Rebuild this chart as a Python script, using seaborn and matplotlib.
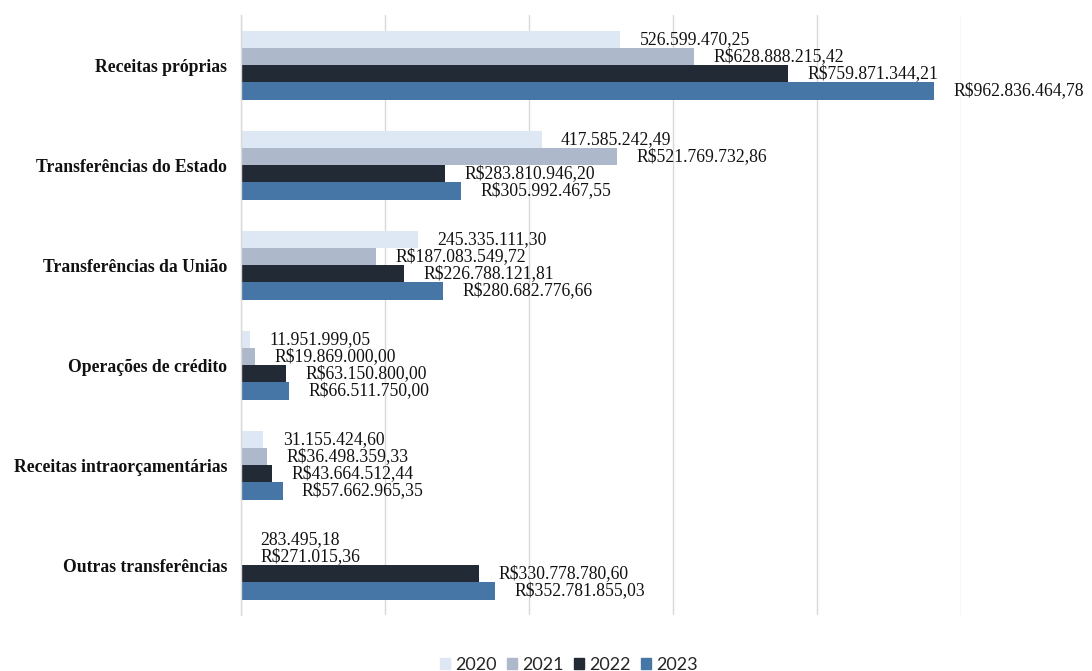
import matplotlib
matplotlib.use("Agg")
import matplotlib.pyplot as plt
import seaborn as sns
import pandas as pd

categories = [
    "Receitas próprias",
    "Transferências do Estado",
    "Transferências da União",
    "Operações de crédito",
    "Receitas intraorçamentárias",
    "Outras transferências",
]
years = ["2020", "2021", "2022", "2023"]
values_2020 = [526599470.25, 417585242.49, 245335111.30, 11951999.05, 31155424.60, 283495.18]
values_2021 = [628888215.42, 521769732.86, 187083549.72, 19869000.00, 36498359.33, 271015.36]
values_2022 = [759871344.21, 283810946.20, 226788121.81, 63150800.00, 43664512.44, 330778780.60]
values_2023 = [962836464.78, 305992467.55, 280682776.66, 66511750.00, 57662965.35, 352781855.03]
colors = ["#dde8f4", "#adb8ca", "#222a35", "#4676a5"]

series = [values_2020, values_2021, values_2022, values_2023]
rows = []
for year, vals in zip(years, series):
    for cat, v in zip(categories, vals):
        rows.append({"categoria": cat, "ano": year, "valor": v})
df = pd.DataFrame(rows)


def brl(v, prefix):
    s = f"{v:,.2f}".replace(",", "X").replace(".", ",").replace("X", ".")
    return prefix + s


sns.set_theme(style="white")
plt.rcParams["font.family"] = ["Liberation Serif", "DejaVu Serif"]

fig = plt.figure(figsize=(10.92, 6.71), dpi=100)
ax = fig.add_axes([241 / 1092, 1 - 615 / 671, 720 / 1092, 600 / 671])

sns.barplot(
    data=df, y="categoria", x="valor", hue="ano", order=categories,
    hue_order=years, palette=colors, orient="h", width=0.69,
    linewidth=0, saturation=1, ax=ax, legend=False,
)

ax.set_xlim(0, 1_000_000_000)
ax.set_xticks([i * 200_000_000 for i in range(6)])
ax.set_xticklabels([])
ax.tick_params(axis="x", length=0)
ax.tick_params(axis="y", length=0, pad=10)
ax.grid(axis="x", color="#d9d9d9", linewidth=1)
ax.set_axisbelow(True)
for side in ["top", "right", "bottom"]:
    ax.spines[side].set_visible(False)
ax.spines["left"].set_color("#d9d9d9")
ax.spines["left"].set_linewidth(1)
ax.set_xlabel("")
ax.set_ylabel("")
for lbl in ax.get_yticklabels():
    lbl.set_fontweight("bold")
    lbl.set_fontsize(12.7)
    lbl.set_color("#111111")

for container, year, vals in zip(ax.containers, years, series):
    prefix = "" if year == "2020" else "R$"
    labels = [brl(v, prefix) for v in vals]
    ax.bar_label(container, labels=labels, padding=14, fontsize=12.7,
                 color="#111111")

handles = [plt.Rectangle((0, 0), 1, 1, color=c) for c in colors]
fig.legend(
    handles, years, loc="center", bbox_to_anchor=(0.521, 0.009), ncol=4,
    frameon=False, prop={"family": ["Lato", "DejaVu Sans"], "size": 13},
    handlelength=0.55, handleheight=0.55, handletextpad=0.3, columnspacing=0.55,
)

fig.savefig("out.png", dpi=100)
